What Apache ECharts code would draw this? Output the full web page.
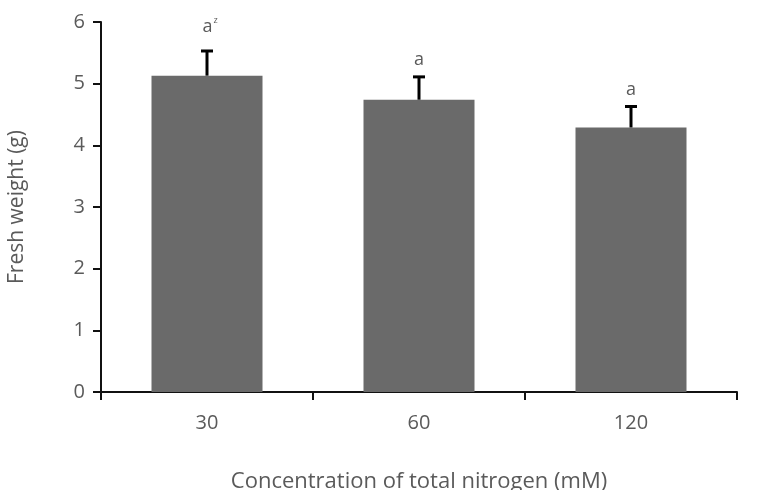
<!DOCTYPE html>
<html><head><meta charset="utf-8">
<script src="https://cdn.jsdelivr.net/npm/echarts@6/dist/echarts.min.js"></script>
<style>html,body{margin:0;padding:0;background:#fff}#c{width:761px;height:490px}</style>
</head><body><div id="c"></div>
<script>
var categories = ['30', '60', '120'];
var freshWeight = [5.13, 4.74, 4.29];
var errorTop = [5.53, 5.11, 4.63];
var letters = ['a', 'a', 'a'];
var superscripts = ['z', '', ''];
var yTicks = [0, 1, 2, 3, 4, 5, 6];

var chart = echarts.init(document.getElementById('c'));
var font = '"Open Sans", "Noto Sans", sans-serif';
chart.setOption({
  animation: false,
  grid: {left: 101, right: 24, top: 22, bottom: 98, containLabel: false, outerBoundsMode: 'none'},
  xAxis: {
    type: 'category', data: categories,
    name: 'Concentration of total nitrogen (mM)', nameLocation: 'middle', nameGap: 79,
    nameTextStyle: {color: '#5a5a5a', fontSize: 22, fontFamily: font},
    axisLine: {lineStyle: {color: '#111', width: 2}},
    axisTick: {show: true, length: 8, lineStyle: {color: '#111', width: 2}},
    axisLabel: {color: '#5a5a5a', fontSize: 20, fontFamily: font, margin: 21}
  },
  yAxis: {
    type: 'value', min: yTicks[0], max: yTicks[yTicks.length - 1], interval: 1,
    name: 'Fresh weight (g)', nameLocation: 'middle', nameGap: 73,
    nameTextStyle: {color: '#5a5a5a', fontSize: 21, fontFamily: font},
    axisLine: {show: true, lineStyle: {color: '#111', width: 2}},
    axisTick: {show: true, length: 8, lineStyle: {color: '#111', width: 2}},
    axisLabel: {color: '#5a5a5a', fontSize: 20, fontFamily: font, margin: 16},
    splitLine: {show: false}
  },
  series: [{
    type: 'bar', data: freshWeight, barWidth: 111,
    itemStyle: {color: '#6a6a6a'}
  }, {
    type: 'custom', z: 5,
    data: categories.map(function (c, i) { return [i, freshWeight[i], errorTop[i]]; }),
    renderItem: function (params, api) {
      var i = api.value(0);
      var p0 = api.coord([i, api.value(1)]);
      var p1 = api.coord([i, api.value(2)]);
      var x = p0[0];
      var hasSup = !!superscripts[i];
      var txt = hasSup ? '{b|' + letters[i] + '}{s|' + superscripts[i] + '}' : '{b|' + letters[i] + '}';
      return {type: 'group', children: [
        {type: 'line', shape: {x1: x, y1: p0[1], x2: x, y2: p1[1]}, style: {stroke: '#000', lineWidth: 3}},
        {type: 'line', shape: {x1: x - 6, y1: p1[1], x2: x + 6, y2: p1[1]}, style: {stroke: '#000', lineWidth: 3}},
        {type: 'text', x: x + (hasSup ? 3 : 0), y: p1[1] - (hasSup ? 14 : 8), style: {
          text: txt, align: 'center', verticalAlign: 'bottom',
          rich: {b: {fontSize: 18, fontFamily: font, fill: '#5a5a5a', color: '#5a5a5a'},
                 s: {fontSize: 9, fontFamily: font, fill: '#5a5a5a', color: '#5a5a5a', verticalAlign: 'top', padding: [0, 0, 12, 1]}}
        }}
      ]};
    }
  }]
});
</script></body></html>
